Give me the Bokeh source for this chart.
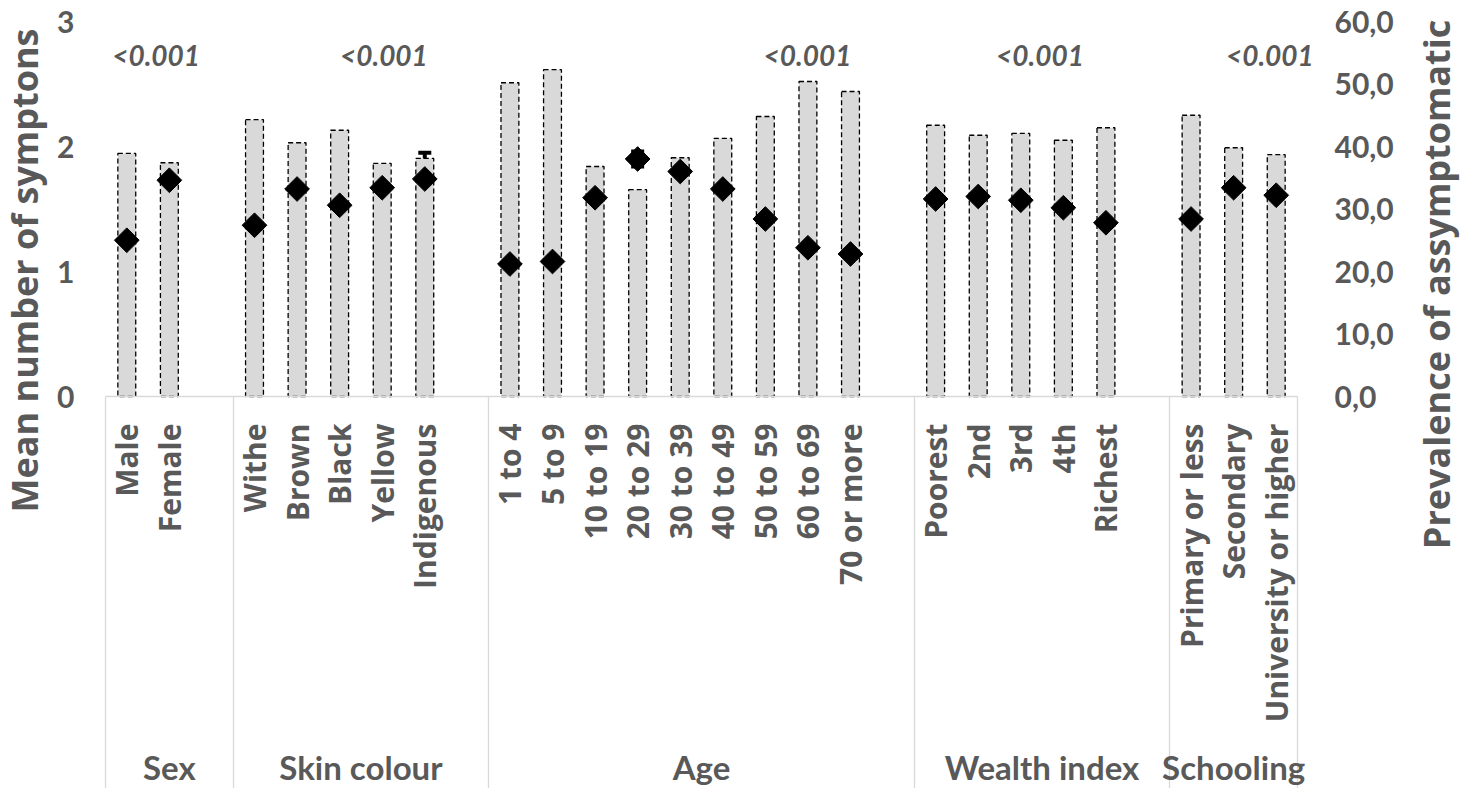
import math
from bokeh.plotting import figure
from bokeh.models import (Range1d, LinearAxis, FixedTicker, Whisker, TeeHead,
                          ColumnDataSource, Label)
from bokeh.core.properties import value
from bokeh.embed import file_html
from bokeh.resources import INLINE

# ---------------- data ----------------
groups = ["Sex", "Skin colour", "Age", "Wealth index", "Schooling"]

sex_cats = ["Male", "Female"]
skin_cats = ["Withe", "Brown", "Black", "Yellow", "Indigenous"]
age_cats = ["1 to 4", "5 to 9", "10 to 19", "20 to 29", "30 to 39",
            "40 to 49", "50 to 59", "60 to 69", "70 or more"]
wealth_cats = ["Poorest", "2nd", "3rd", "4th", "Richest"]
school_cats = ["Primary or less", "Secondary", "University or higher"]

# prevalence of asymptomatic (%), right axis
prev_sex = [38.9, 37.4]
prev_skin = [44.3, 40.6, 42.6, 37.3, 38.1]
prev_age = [50.2, 52.3, 36.8, 33.1, 38.2, 41.3, 44.8, 50.4, 48.8]
prev_wealth = [43.4, 41.8, 42.1, 41.0, 43.0]
prev_school = [45.0, 39.8, 38.7]

# mean number of symptoms, left axis, with 95% CI
mean_sex = [1.25, 1.73]
lo_sex = [1.22, 1.70]
hi_sex = [1.28, 1.76]
mean_skin = [1.37, 1.66, 1.53, 1.67, 1.74]
lo_skin = [1.33, 1.62, 1.47, 1.53, 1.51]
hi_skin = [1.41, 1.70, 1.59, 1.80, 1.95]
mean_age = [1.06, 1.08, 1.59, 1.90, 1.80, 1.66, 1.42, 1.19, 1.14]
lo_age = [0.94, 0.98, 1.50, 1.84, 1.75, 1.61, 1.37, 1.13, 1.07]
hi_age = [1.18, 1.19, 1.70, 1.96, 1.85, 1.71, 1.47, 1.25, 1.21]
mean_wealth = [1.58, 1.60, 1.57, 1.51, 1.39]
lo_wealth = [1.53, 1.55, 1.52, 1.46, 1.34]
hi_wealth = [1.63, 1.65, 1.62, 1.56, 1.44]
mean_school = [1.42, 1.67, 1.61]
lo_school = [1.38, 1.63, 1.56]
hi_school = [1.46, 1.71, 1.66]

p_values = ["<0.001", "<0.001", "<0.001", "<0.001", "<0.001"]
p_anchor = ["Female", "Yellow", "60 to 69", "4th", "University or higher"]

left_ticks = [0, 1, 2, 3]
right_ticks = [0, 10, 20, 30, 40, 50, 60]

# ---------------- slot layout (one blank slot after each group but the last) ----------------
group_cats = [sex_cats, skin_cats, age_cats, wealth_cats, school_cats]
xs, names = [], []
bounds, centers = [0], []
pos = 0
for i, cats in enumerate(group_cats):
    start = pos
    for c in cats:
        xs.append(pos + 0.5)
        names.append(c)
        pos += 1
    if i < len(group_cats) - 1:
        pos += 1
    bounds.append(pos)
    centers.append((start + pos) / 2)
n_slots = pos

prev = prev_sex + prev_skin + prev_age + prev_wealth + prev_school
mean = mean_sex + mean_skin + mean_age + mean_wealth + mean_school
lo = lo_sex + lo_skin + lo_age + lo_wealth + lo_school
hi = hi_sex + hi_skin + hi_age + hi_wealth + hi_school

src = ColumnDataSource(dict(x=xs, name=names, prev=prev, mean=mean, lo=lo, hi=hi))

TXT = "#595959"
GRID = "#d9d9d9"

# ---------------- canvas geometry (the frame fills the whole canvas) ----------------
W, H = 1461, 788
PLOT_L, PLOT_R = 105, 1297      # px of the category area
PLOT_T, BASE = 21, 396          # px of y = 3 and y = 0
SLOT = (PLOT_R - PLOT_L) / n_slots
UNIT = (BASE - PLOT_T) / 3.0
R_SCALE = 20.0                  # right-axis units per left-axis unit

x0 = -PLOT_L / SLOT
x1 = (W - PLOT_L) / SLOT
y1 = 3 + PLOT_T / UNIT
y0 = -(H - BASE) / UNIT

p = figure(width=W, height=H, output_backend="svg", toolbar_location=None,
           x_range=Range1d(x0, x1), y_range=Range1d(y0, y1),
           x_axis_location=None, y_axis_location=None,
           min_border_left=0, min_border_right=0, min_border_top=0,
           min_border_bottom=0)
p.outline_line_color = None
p.xgrid.visible = False
p.ygrid.visible = False
p.background_fill_color = "white"
p.border_fill_color = "white"
p.extra_y_ranges = {"prev": Range1d(y0 * R_SCALE, y1 * R_SCALE)}

# bars (prevalence)
p.vbar(x="x", top="prev", bottom=0, width=0.42, source=src, y_range_name="prev",
       fill_color="#d9d9d9", line_color="black", line_dash="5 3", line_width=1.3)

# error bars
w = Whisker(base="x", lower="lo", upper="hi", source=src, dimension="height",
            line_color="black", line_width=4,
            upper_head=TeeHead(size=13, line_width=4, line_color="black"),
            lower_head=TeeHead(size=13, line_width=4, line_color="black"))
p.add_layout(w)

# diamonds (mean number of symptoms)
r = p.scatter(x="x", y="mean", source=src, marker="square", angle=math.pi / 4,
              size=17.5, fill_color="black", line_color="black")
r.level = "overlay"

# p-value labels
p_shift = {"Female": -0.31, "Yellow": 0.04, "60 to 69": -0.01, "4th": -0.55,
           "University or higher": -0.15}
px = [xs[names.index(a)] + p_shift[a] for a in p_anchor]
p.text(x=px, y=[2.73] * len(px), text=p_values, text_font=value("Lato"),
       text_font_style="bold italic", text_font_size="28px", text_color=TXT,
       text_align="center", text_baseline="middle")

# category axis at y = 0 (group separators as long minor ticks)
SEP_LEN = H - BASE
ax1 = LinearAxis(ticker=FixedTicker(ticks=xs, minor_ticks=bounds),
                 bounds=(0, n_slots), fixed_location=0)
ax1.major_label_overrides = {x: n for x, n in zip(xs, names)}
ax1.major_label_orientation = math.pi / 2
ax1.major_label_text_font = "Open Sans"
ax1.major_label_text_font_style = "bold"
ax1.major_label_text_font_size = "30px"
ax1.major_label_text_color = TXT
ax1.major_tick_out = 0
ax1.major_tick_in = 0
ax1.major_tick_line_color = None
ax1.minor_tick_in = 0
ax1.minor_tick_out = SEP_LEN
ax1.major_label_standoff = 27 - SEP_LEN
ax1.minor_tick_line_color = GRID
ax1.minor_tick_line_width = 1.3
ax1.axis_line_color = GRID
ax1.axis_line_width = 1.3
p.add_layout(ax1, "below")

# group axis near the bottom
ax2 = LinearAxis(ticker=FixedTicker(ticks=centers, minor_ticks=[]),
                 fixed_location=-(746 - BASE) / UNIT)
ax2.major_label_overrides = {c: g for c, g in zip(centers, groups)}
ax2.major_label_text_font = "Lato"
ax2.major_label_text_font_style = "bold"
ax2.major_label_text_font_size = "33px"
ax2.major_label_text_color = TXT
ax2.major_label_standoff = 0
ax2.major_tick_out = 0
ax2.major_tick_in = 0
ax2.major_tick_line_color = None
ax2.minor_tick_line_color = None
ax2.axis_line_color = None
p.add_layout(ax2, "below")

# left axis at x = 0
axl = LinearAxis(ticker=FixedTicker(ticks=left_ticks, minor_ticks=[]),
                 bounds=(0, 3), fixed_location=0)
axl.major_label_text_font = "Lato"
axl.major_label_text_font_style = "bold"
axl.major_label_text_font_size = "30px"
axl.major_label_text_color = TXT
axl.major_label_standoff = 31
axl.major_tick_out = 0
axl.major_tick_in = 0
axl.major_tick_line_color = None
axl.minor_tick_line_color = None
axl.axis_line_color = None
p.add_layout(axl, "left")

# right axis at the end of the category area
axr = LinearAxis(y_range_name="prev", ticker=FixedTicker(ticks=right_ticks, minor_ticks=[]),
                 bounds=(0, 60), fixed_location=n_slots)
axr.major_label_overrides = {t: f"{t:.1f}".replace(".", ",") for t in right_ticks}
axr.major_label_text_font = "Lato"
axr.major_label_text_font_style = "bold"
axr.major_label_text_font_size = "30px"
axr.major_label_text_color = TXT
axr.major_label_standoff = 37
axr.major_tick_out = 0
axr.major_tick_in = 0
axr.major_tick_line_color = None
axr.minor_tick_line_color = None
axr.axis_line_color = None
p.add_layout(axr, "right")

# axis titles (screen units measured from the frame's bottom-left corner)
for txt, cx, cy in [("Mean number of symptons", 24, 270),
                    ("Prevalence of assymptomatic", 1436, 284)]:
    p.add_layout(Label(x=cx, y=H - cy, x_units="screen", y_units="screen", text=txt,
                       angle=math.pi / 2, text_align="center", text_baseline="middle",
                       text_font="Open Sans", text_font_style="bold",
                       text_font_size="36px", text_color=TXT))

open("out.html", "w").write(file_html(p, INLINE))
